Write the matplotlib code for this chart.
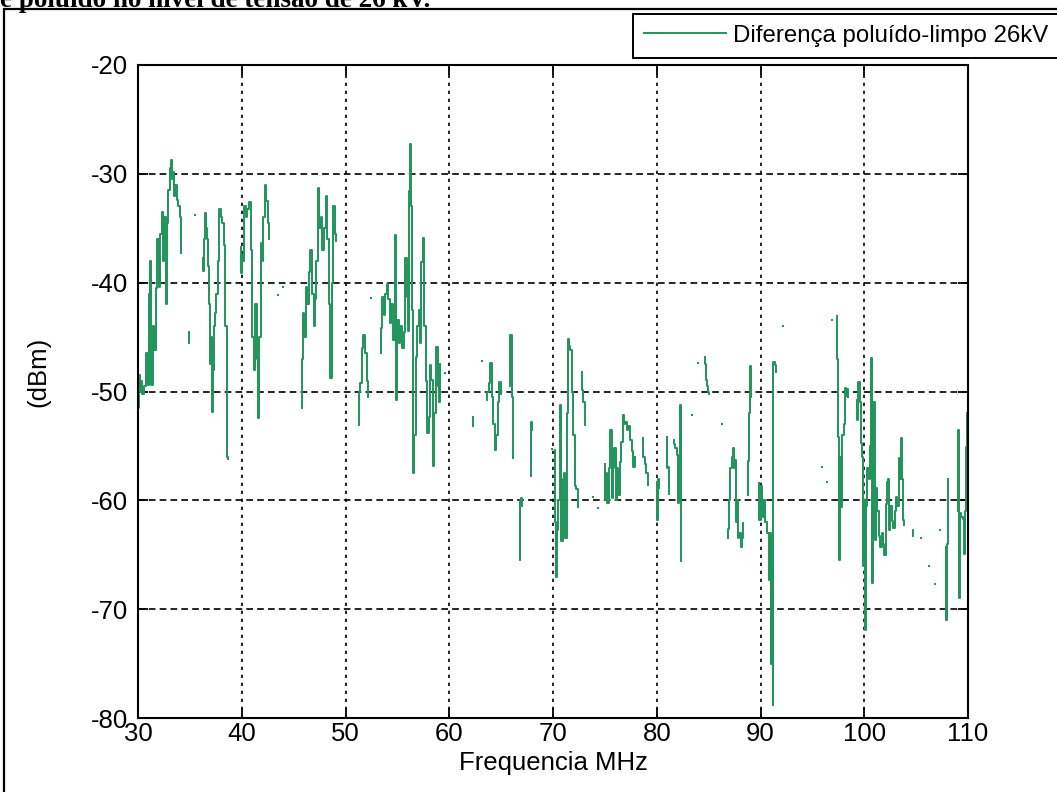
import matplotlib
matplotlib.use("Agg")
import matplotlib.pyplot as plt
import numpy as np
from matplotlib.patches import Rectangle

plt.rcParams["font.family"] = ["Liberation Sans", "DejaVu Sans"]
plt.rcParams["axes.unicode_minus"] = False

# Diferença poluído - limpo (26 kV).
# Each run is a continuous piece of the trace: (MHz, dBm)
run_30 = [(30.0, -51.5), (30.1, -48.5), (30.2, -50.0), (30.35, -49.0), (30.5, -50.2),
          (30.7, -49.5), (30.9, -46.5), (31.0, -49.4), (31.15, -41.0), (31.25, -38.0),
          (31.35, -49.4), (31.5, -44.0), (31.65, -46.2), (31.8, -40.5), (31.95, -36.0),
          (32.1, -40.4), (32.2, -35.5), (32.35, -33.5), (32.5, -38.0), (32.6, -34.0),
          (32.75, -42.0), (32.85, -34.5), (33.0, -31.5), (33.1, -29.5), (33.25, -28.7),
          (33.35, -30.5), (33.45, -29.8), (33.55, -32.0), (33.65, -31.0), (33.8, -32.4),
          (33.95, -33.0), (34.1, -34.0), (34.2, -37.3)]
run_35 = [(34.88, -44.5), (34.95, -45.5)]
run_36 = [(36.2, -37.7), (36.3, -38.9), (36.4, -36.0), (36.5, -33.6), (36.6, -35.0),
          (36.7, -36.0), (36.8, -38.5), (36.9, -42.0), (37.0, -47.5), (37.1, -45.0),
          (37.2, -51.9), (37.3, -48.0), (37.4, -44.0), (37.5, -42.8), (37.6, -41.0),
          (37.75, -38.0), (37.9, -33.2), (38.05, -34.0), (38.2, -34.5), (38.35, -36.5),
          (38.5, -44.0), (38.6, -56.0), (38.75, -56.2)]
run_40 = [(39.9, -36.7), (40.0, -39.1), (40.1, -37.5), (40.2, -38.0), (40.3, -33.0),
          (40.45, -34.0), (40.6, -33.2), (40.8, -32.6), (40.95, -37.0), (41.1, -45.0),
          (41.2, -48.0), (41.35, -42.0), (41.5, -47.0), (41.6, -52.4), (41.75, -45.0),
          (41.9, -36.4), (42.0, -38.0), (42.15, -34.0), (42.3, -31.0), (42.45, -32.5),
          (42.55, -34.5), (42.65, -36.0)]
run_46 = [(45.7, -51.5), (45.85, -47.0), (45.95, -42.8), (46.1, -45.0), (46.25, -40.4),
          (46.4, -42.0), (46.55, -39.0), (46.7, -37.0), (46.85, -41.0), (47.0, -44.0),
          (47.1, -41.5), (47.25, -38.0), (47.4, -31.3), (47.55, -35.0), (47.7, -34.0),
          (47.85, -37.0), (48.0, -35.0), (48.15, -32.0), (48.3, -36.0), (48.45, -42.0),
          (48.6, -48.8), (48.75, -40.0), (48.9, -33.0), (49.05, -35.5), (49.2, -36.2)]
run_51 = [(51.2, -53.1), (51.35, -50.0), (51.5, -49.2), (51.65, -46.0), (51.8, -44.8),
          (51.95, -46.5), (52.1, -49.0), (52.2, -50.5)]
run_53 = [(53.35, -46.5), (53.45, -44.2), (53.6, -41.3), (53.75, -43.0), (53.9, -41.0),
          (54.05, -40.1), (54.2, -41.5), (54.35, -43.7), (54.5, -42.0), (54.65, -45.3),
          (54.8, -35.6), (54.9, -50.8), (55.05, -43.4), (55.2, -45.5), (55.35, -44.0),
          (55.5, -46.0), (55.7, -44.5), (55.85, -37.7), (55.95, -41.3), (56.05, -44.4),
          (56.15, -31.6), (56.25, -27.3), (56.35, -33.0), (56.45, -42.5), (56.6, -57.5),
          (56.7, -54.0), (56.85, -46.8), (57.0, -44.0), (57.1, -42.5), (57.25, -45.5),
          (57.35, -38.1), (57.5, -35.9), (57.65, -44.0), (57.8, -49.0), (57.95, -53.8),
          (58.05, -52.3), (58.2, -47.6), (58.35, -48.9), (58.5, -56.8), (58.65, -52.0),
          (58.8, -45.9), (58.95, -49.5), (59.05, -51.0), (59.15, -47.5)]
run_62 = [(62.2, -52.3), (62.35, -53.2)]
run_64 = [(63.6, -50.8), (63.75, -50.0), (63.9, -49.2), (64.05, -47.4), (64.15, -50.5),
          (64.3, -53.0), (64.45, -55.4), (64.6, -54.0), (64.75, -51.0), (64.9, -49.1),
          (65.05, -50.2)]
run_66 = [(65.85, -49.5), (65.95, -44.8), (66.05, -50.5), (66.15, -56.1)]
run_67 = [(66.75, -65.5), (66.85, -60.0), (67.0, -59.8), (67.1, -60.5)]
run_68 = [(67.85, -57.8), (67.95, -52.8), (68.0, -53.5)]
run_70 = [(70.15, -55.4), (70.25, -62.0), (70.35, -67.0), (70.45, -62.7), (70.6, -60.0),
          (70.75, -51.2), (70.85, -63.7), (71.0, -58.0), (71.15, -57.5), (71.25, -63.5),
          (71.4, -52.0), (71.5, -45.2), (71.6, -45.8), (71.75, -46.2), (71.9, -50.0),
          (72.0, -54.0), (72.15, -58.7), (72.3, -59.0), (72.45, -60.6)]
run_72 = [(72.75, -48.2), (72.85, -49.9), (73.0, -51.0), (73.15, -53.1)]
run_75 = [(74.95, -56.7), (75.05, -60.0), (75.15, -57.5), (75.3, -60.2), (75.45, -57.0),
          (75.6, -53.5), (75.7, -59.8), (75.85, -57.0), (76.0, -55.2), (76.1, -60.0),
          (76.25, -57.0), (76.35, -59.5), (76.5, -56.5), (76.65, -54.6), (76.75, -52.2),
          (76.9, -53.0), (77.05, -52.8), (77.2, -53.5), (77.35, -53.2), (77.5, -54.5),
          (77.65, -55.5), (77.8, -56.9), (77.95, -56.0)]
run_78 = [(78.65, -54.3), (78.75, -56.0), (78.9, -56.7), (79.05, -57.5), (79.2, -58.6)]
run_80 = [(79.95, -58.3), (80.05, -61.8), (80.15, -58.0), (80.3, -58.9)]
run_81 = [(80.9, -54.2), (81.0, -57.0), (81.1, -56.9), (81.25, -59.4)]
run_82 = [(81.55, -54.5), (81.7, -54.8), (81.85, -55.2), (82.0, -55.8), (82.1, -60.2),
          (82.2, -57.0), (82.3, -51.2), (82.4, -65.6)]
run_85 = [(84.6, -46.8), (84.7, -47.5), (84.8, -48.9), (84.9, -49.5), (85.0, -50.0),
          (85.15, -50.2)]
run_87 = [(86.85, -63.5), (86.95, -62.6), (87.05, -60.0), (87.15, -57.0), (87.3, -56.0),
          (87.4, -55.2), (87.5, -57.0), (87.6, -56.3), (87.7, -62.0), (87.8, -60.0),
          (87.9, -63.5), (88.05, -63.0), (88.2, -64.3), (88.3, -63.5), (88.4, -62.1)]
run_89 = [(88.75, -59.5), (88.85, -56.4), (88.95, -52.0), (89.05, -47.7), (89.15, -50.5)]
run_90 = [(89.85, -58.4), (89.95, -61.8), (90.05, -58.7), (90.15, -60.0), (90.3, -61.5),
          (90.4, -60.0), (90.55, -62.0), (90.7, -63.0), (90.85, -67.3), (90.95, -63.0),
          (91.05, -75.0), (91.15, -66.0), (91.2, -78.8), (91.3, -47.3), (91.4, -47.6),
          (91.55, -48.2)]
run_97 = [(97.35, -43.1), (97.45, -47.0), (97.55, -54.2), (97.65, -65.5), (97.75, -56.0),
          (97.85, -60.6), (97.95, -54.0), (98.05, -53.0), (98.15, -49.7), (98.25, -50.4),
          (98.35, -49.8), (98.5, -50.5)]
run_99 = [(99.25, -50.8), (99.35, -52.6), (99.5, -49.1), (99.6, -51.0), (99.7, -54.7),
          (99.8, -56.0), (99.9, -66.0), (100.0, -60.0), (100.07, -71.9), (100.2, -60.5),
          (100.35, -57.0), (100.5, -58.0), (100.62, -55.0), (100.72, -46.9), (100.82, -67.6),
          (100.94, -51.0), (101.05, -63.6), (101.2, -58.9), (101.35, -61.0), (101.5, -63.3),
          (101.62, -64.3), (101.78, -63.0), (101.9, -64.0), (102.0, -65.0), (102.1, -60.3),
          (102.2, -58.3), (102.32, -58.0), (102.45, -62.7), (102.6, -60.5), (102.75, -61.9),
          (102.85, -62.5), (103.0, -61.0), (103.13, -59.7), (103.25, -60.5), (103.38, -56.1),
          (103.5, -58.0), (103.6, -54.3), (103.7, -58.0), (103.82, -61.8), (103.93, -62.3)]
run_105 = [(104.68, -62.7), (104.78, -63.3)]
run_108 = [(107.8, -64.3), (107.9, -71.0), (108.0, -64.0), (108.1, -58.0)]
run_109 = [(109.0, -61.0), (109.07, -53.5), (109.15, -69.0), (109.25, -61.2), (109.4, -61.5),
           (109.55, -61.7), (109.7, -64.9), (109.8, -61.0), (109.9, -55.1), (110.0, -52.0)]

# isolated samples
dot_freq = [35.5, 44.0, 43.5, 52.5, 59.6, 63.2, 69.9, 73.9, 74.3, 83.4, 84.0, 86.3,
            92.2, 95.9, 96.4, 96.9, 105.5, 106.2, 106.8, 107.3]
dot_dbm = [-33.8, -40.4, -41.1, -41.4, -48.3, -47.2, -55.3, -59.7, -60.7, -52.2, -47.4, -53.0,
           -44.0, -56.9, -58.3, -43.4, -63.5, -66.0, -67.7, -62.7]

runs = [run_30, run_35, run_36, run_40, run_46, run_51, run_53, run_62, run_64, run_66,
        run_67, run_68, run_70, run_72, run_75, run_78, run_80, run_81, run_82, run_85,
        run_87, run_89, run_90, run_97, run_99, run_105, run_108, run_109]

x_ticks = [30, 40, 50, 60, 70, 80, 90, 100, 110]
y_ticks = [-80, -70, -60, -50, -40, -30, -20]

GREEN = "#1f955a"
FS = 18.5

freq, level = [], []
for run in runs:
    f, v = zip(*run)
    freq += list(f) + [np.nan]
    level += list(v) + [np.nan]

fig = plt.figure(figsize=(10.57, 7.92), dpi=100)
ax = fig.add_axes([138 / 1057, 1 - 718 / 792, 830 / 1057, 653 / 792])

ax.plot(freq, level, color=GREEN, lw=1.4, drawstyle="steps-mid",
        label="Diferença poluído-limpo 26kV")
ax.plot(dot_freq, dot_dbm, ls="none", marker="s", ms=2.0, mew=0, color=GREEN)

ax.set_xlim(30, 110)
ax.set_ylim(-80, -20)
ax.set_xticks(x_ticks)
ax.set_yticks(y_ticks)
ax.xaxis.grid(True, color="k", lw=1.2, linestyle=(0, (2.0, 2.8)))
ax.yaxis.grid(True, color="k", lw=1.2, linestyle=(0, (4.0, 2.5)))
ax.tick_params(direction="in", length=7, width=1.3, top=True, right=True, labelsize=FS)
ax.tick_params(axis="x", pad=3)
ax.tick_params(axis="y", pad=7)
for s in ax.spines.values():
    s.set_linewidth(1.5)

ax.set_xlabel("Frequencia MHz", fontsize=FS)
ax.set_ylabel("(dBm)", fontsize=FS)
ax.xaxis.set_label_coords(0.5, -0.05)
ax.yaxis.set_label_coords(-0.106, 0.53)

leg = ax.legend(loc="upper left", bbox_to_anchor=(633 / 1057, 1 - 14 / 792),
                bbox_transform=fig.transFigure, borderaxespad=0, fancybox=False,
                framealpha=1, edgecolor="k", fontsize=17.3, handlelength=3.4,
                handletextpad=0.3, borderpad=0.45)
leg.get_frame().set_linewidth(1.4)

# figure frame of the original scan
fig.add_artist(Rectangle((4 / 1057, -0.1), 1.2, 1.1 - 9.5 / 792, transform=fig.transFigure,
                         fill=False, lw=1.6, ec="k"))
fig.text(0.0, 1 - 7 / 792, "e poluído no nível de tensão de 26 kV.", fontsize=19.5,
         fontweight="bold", family=["Liberation Serif", "DejaVu Serif"], va="baseline")

fig.savefig("out.png", dpi=100)
